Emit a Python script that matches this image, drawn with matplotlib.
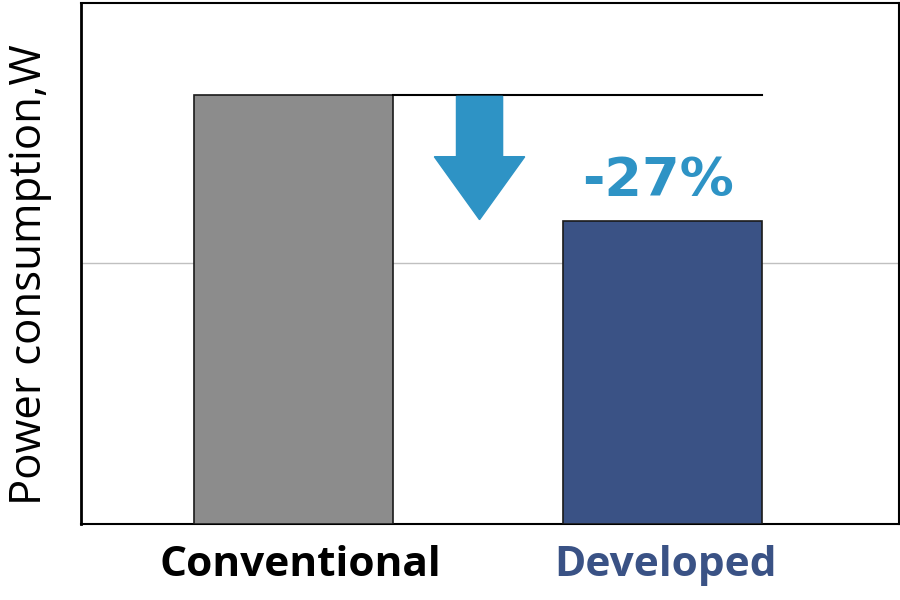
import matplotlib
matplotlib.use("Agg")
import matplotlib.pyplot as plt
from matplotlib.patches import FancyArrow
from matplotlib.transforms import ScaledTranslation

categories = ["Conventional", "Developed"]
values = [98.8, 69.8]
bar_colors = ["#8c8c8c", "#3a5285"]
label_colors = ["#000000", "#3a5285"]
reduction_text = "-27%"

plt.rcParams['font.family'] = ['Open Sans', 'DejaVu Sans']

fig = plt.figure(figsize=(9, 6), dpi=100)
ax = fig.add_axes([0.09, 0.1267, 0.909, 0.8683])

x = [0, 1]
ax.bar(x, values, width=0.54, color=bar_colors, edgecolor="#1a1a1a", linewidth=1.2, zorder=3)
ax.set_xlim(-0.575, 1.642)
ax.set_ylim(0, 120)
ax.set_yticks([60])
ax.set_yticklabels([])
ax.tick_params(axis='y', length=0)
ax.tick_params(axis='x', length=0, pad=15)
ax.yaxis.grid(True, color="#c0c0c0", linewidth=1, zorder=0)
ax.set_xticks(x)
ax.set_xticklabels(categories, fontsize=30.5, fontweight='bold')
for lbl, c, dx in zip(ax.get_xticklabels(), label_colors, [0.07, 0.03]):
    lbl.set_color(c)
    lbl.set_transform(lbl.get_transform() + ScaledTranslation(dx, 0, fig.dpi_scale_trans))

for s in ax.spines.values():
    s.set_linewidth(1.5)
    s.set_color("#000000")
ax.spines['left'].set_linewidth(2)

# reference line from top of conventional bar
ax.plot([0.27, 1.27], [values[0], values[0]], color="#000000", linewidth=1.5, zorder=4)

# arrow
ax.add_patch(FancyArrow(0.505, values[0] - 0.3, 0, -(values[0] - values[1]) + 0.6,
                        width=0.125, head_width=0.245, head_length=14.5,
                        length_includes_head=True, color="#2e93c5", zorder=4))

ax.text(0.99, 75.5, reduction_text, ha='center', va='baseline',
        fontsize=39, fontweight='bold', color="#2e93c5", zorder=5,
        family='DejaVu Sans')

fig.text(0.008, 0.5417, "Power consumption,W", rotation=90, ha='left', va='center',
         fontsize=31.5)

fig.savefig("out.png", dpi=100)
